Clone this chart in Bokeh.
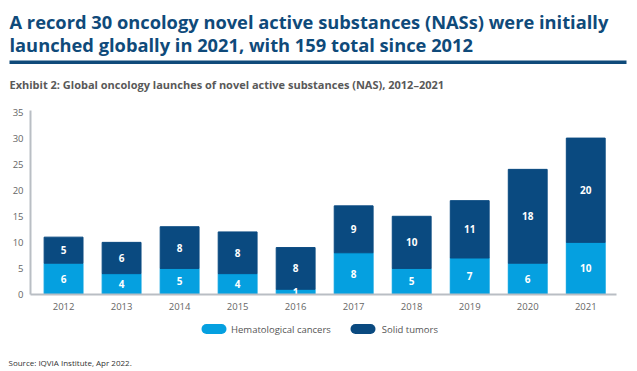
from bokeh.plotting import figure
from bokeh.layouts import column
from bokeh.models import (Label, Range1d, FixedTicker, ColumnDataSource, Legend, LegendItem, BoxAnnotation)
from bokeh.core.properties import value
from bokeh.embed import file_html
from bokeh.resources import INLINE

# ---- data ----
years = [2012, 2013, 2014, 2015, 2016, 2017, 2018, 2019, 2020, 2021]
hematological = [6, 4, 5, 4, 1, 8, 5, 7, 6, 10]
solid = [5, 6, 8, 8, 8, 9, 10, 11, 18, 20]
y_ticks = [0, 5, 10, 15, 20, 25, 30, 35]
series_names = ["Hematological cancers", "Solid tumors"]

title_lines = ["A record 30 oncology novel active substances (NASs) were initially",
               "launched globally in 2021, with 159 total since 2012"]
subtitle = "Exhibit 2: Global oncology launches of novel active substances (NAS), 2012\u20132021"
source_note = "Source: IQVIA Institute, Apr 2022."

LIGHT = "#05a0e0"
DARK = "#0a4a80"
NAVY = "#0f4a7a"
FONT = "Open Sans"

W = 637
HEAD_H, CHART_H, FOOT_H = 100, 218, 53


def blank(height, y_top):
    f = figure(width=W, height=height, output_backend="svg", toolbar_location=None,
               x_range=Range1d(0, W), y_range=Range1d(y_top + height, y_top), min_border=0,
               frame_align=False)
    f.axis.visible = False
    f.grid.visible = False
    f.outline_line_color = None
    return f


# ---- header ----
head = blank(HEAD_H, 0)
head.add_layout(Label(x=9, y=20.7, text=title_lines[0], text_baseline="alphabetic",
                      text_font=FONT, text_font_style="bold", text_font_size="18.3px", text_color=NAVY))
head.add_layout(Label(x=9, y=44.3, text=title_lines[1], text_baseline="alphabetic",
                      text_font=FONT, text_font_style="bold", text_font_size="18.3px", text_color=NAVY))
head.add_layout(BoxAnnotation(left=9, right=626, top=60, bottom=63.5,
                              fill_color=NAVY, fill_alpha=1, line_color=None))
head.add_layout(Label(x=9, y=84, text=subtitle, text_baseline="alphabetic",
                      text_font=FONT, text_font_style="bold", text_font_size="11px", text_color="#595959"))

# ---- chart ----
FL, FR = 30, 616
X0, X1 = 2011.43, 2021.53
p = figure(width=W, height=CHART_H, output_backend="svg", toolbar_location=None,
           x_range=Range1d(X0, X1), y_range=Range1d(0, 35.29),
           min_border_left=FL, min_border_right=W - FR,
           min_border_top=10, min_border_bottom=24, frame_align=False)
p.outline_line_color = None
p.grid.visible = False

tops = [h + s for h, s in zip(hematological, solid)]
src = ColumnDataSource(dict(
    x=years, h=hematological, s=solid, top=tops,
    hmid=[h / 2 for h in hematological],
    smid=[h + s / 2 for h, s in zip(hematological, solid)],
    htxt=[str(v) for v in hematological], stxt=[str(v) for v in solid]))

p.vbar(x="x", width=0.67, bottom=0, top="h", source=src, fill_color=LIGHT, line_color=LIGHT)
p.vbar(x="x", width=0.67, bottom="h", top="top", source=src, fill_color=DARK, line_color=DARK)

for ycol, tcol in (("hmid", "htxt"), ("smid", "stxt")):
    p.text(x="x", y=ycol, text=tcol, source=src, text_align="center", text_baseline="middle",
           text_color="white", text_font=value(FONT), text_font_style="bold", text_font_size="10px")

for ax in (p.xaxis[0], p.yaxis[0]):
    ax.axis_line_color = "#b9bec4"
    ax.axis_line_width = 2
    ax.major_tick_line_color = None
    ax.minor_tick_line_color = None
    ax.major_tick_out = 0
    ax.major_tick_in = 0
    ax.major_label_text_font = FONT
    ax.major_label_text_font_size = "9.5px"
    ax.major_label_text_color = "#666666"
p.yaxis[0].ticker = FixedTicker(ticks=y_ticks)
p.yaxis[0].major_label_standoff = 7
p.xaxis[0].ticker = FixedTicker(ticks=years)
p.xaxis[0].major_label_standoff = 8

# ---- footer: legend + source ----
foot = blank(FOOT_H, HEAD_H + CHART_H)
r1 = foot.line(x=[0, 1], y=[0, 0], line_color=LIGHT, line_width=10, line_alpha=0)
r2 = foot.line(x=[0, 1], y=[0, 0], line_color=DARK, line_width=10, line_alpha=0)
leg = Legend(items=[LegendItem(label=series_names[0], renderers=[r1]),
                    LegendItem(label=series_names[1], renderers=[r2])],
             orientation="horizontal", location=(201, 35.5),
             glyph_width=25, glyph_height=10, label_height=10, label_standoff=5, spacing=21,
             padding=0, margin=0, border_line_color=None, background_fill_alpha=0,
             label_text_font=FONT, label_text_font_size="9.5px", label_text_color="#555555")
foot.add_layout(leg, "center")
# rounded legend swatches
for (l, r), c in zip(((201, 226), (350, 375)), (LIGHT, DARK)):
    foot.add_layout(BoxAnnotation(left=l, right=r, top=323.5, bottom=333.5, border_radius=5,
                                  fill_color=c, fill_alpha=1, line_color=None))
foot.add_layout(Label(x=8, y=361.5, text=source_note, text_baseline="middle",
                      text_font=FONT, text_font_size="8px", text_color="#333333"))

layout = column(head, p, foot, spacing=0)
open("out.html", "w").write(file_html(layout, INLINE))
